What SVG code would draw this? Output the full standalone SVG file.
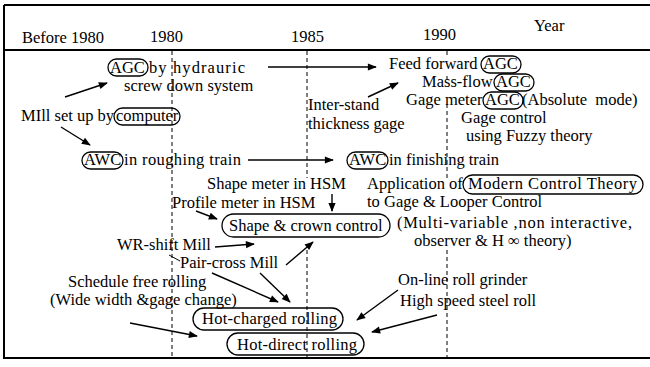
<svg xmlns="http://www.w3.org/2000/svg" width="650" height="367" viewBox="0 0 650 367">
<defs>
<marker id="ah" viewBox="0 0 10 10" refX="9" refY="5" markerWidth="10" markerHeight="9" markerUnits="userSpaceOnUse" orient="auto">
<path d="M0,1 L10,5 L0,9 Z" fill="#000"/>
</marker>
<style>
text{font-family:"Liberation Serif","Times New Roman",serif;font-size:16.5px;fill:#000}
.ov{fill:none;stroke:#000;stroke-width:1.3}
.frame{stroke:#000;stroke-width:2;fill:none}
.dash{stroke:#000;stroke-width:1;stroke-dasharray:4,3;fill:none}
.arr{stroke:#000;stroke-width:1.4;fill:none;marker-end:url(#ah)}
.ln{stroke:#000;stroke-width:1;fill:none}
</style>
</defs>
<rect width="650" height="367" fill="#fff"/>
<g id="frame">
<line class="frame" x1="4" y1="5" x2="650" y2="5"/>
<line class="frame" x1="4" y1="5" x2="4" y2="358"/>
<line class="frame" x1="3" y1="358" x2="650" y2="358"/>
<line class="frame" x1="3" y1="50" x2="650" y2="50"/>
</g>
<g id="axis">
<text x="22" y="43">Before 1980</text>
<text x="150" y="42">1980</text>
<text x="291" y="42">1985</text>
<text x="423" y="40">1990</text>
<text x="534" y="31">Year</text>
<line class="dash" x1="172" y1="51" x2="172" y2="358"/>
<line class="dash" x1="307" y1="51" x2="307" y2="178"/>
<line class="dash" x1="307" y1="250" x2="307" y2="358"/>
<line class="dash" x1="447" y1="51" x2="447" y2="57"/>
<line class="dash" x1="447" y1="76" x2="447" y2="80"/>
<line class="dash" x1="447" y1="104" x2="447" y2="178"/>
<line class="dash" x1="447" y1="250" x2="447" y2="358"/>
</g>
<g id="agc-hydraulic">
<rect class="ov" x="108" y="59" width="40" height="17" rx="8.5"/>
<text x="110" y="73">AGC</text>
<text x="149" y="73" textLength="96" lengthAdjust="spacing">by hydrauric</text>
<text x="124" y="91">screw down system</text>
</g>
<g id="feed-forward">
<text x="389" y="69">Feed forward</text>
<rect class="ov" x="481" y="56" width="40" height="17" rx="8.5"/>
<text x="483" y="69">AGC</text>
</g>
<g id="mass-flow">
<text x="422" y="87">Mass-flow</text>
<rect class="ov" x="494" y="74" width="40" height="17" rx="8.5"/>
<text x="496" y="87">AGC</text>
</g>
<g id="gage-meter">
<text x="406" y="105">Gage meter</text>
<rect class="ov" x="483" y="92" width="40" height="17" rx="8.5"/>
<text x="485" y="105">AGC</text>
<text x="522" y="105">(Absolute&#160; mode)</text>
</g>
<g id="fuzzy">
<text x="461" y="123">Gage control</text>
<text x="466" y="141">using Fuzzy theory</text>
</g>
<g id="inter-stand">
<text x="308" y="110">Inter-stand</text>
<text x="308" y="129">thickness gage</text>
</g>
<g id="mill-setup">
<text x="21" y="121">MIll set up by</text>
<rect class="ov" x="114" y="108" width="66" height="17" rx="8.5"/>
<text x="116" y="121">computer</text>
</g>
<g id="awc-roughing">
<rect class="ov" x="82" y="152" width="41" height="17" rx="8.5"/>
<text x="84" y="165">AWC</text>
<text x="124" y="165" textLength="117" lengthAdjust="spacing">in roughing train</text>
</g>
<g id="awc-finishing">
<rect class="ov" x="347" y="152" width="41" height="17" rx="8.5"/>
<text x="349" y="165">AWC</text>
<text x="389" y="165">in finishing train</text>
</g>
<g id="shape-meter">
<text x="207" y="189">Shape meter in HSM</text>
</g>
<g id="profile-meter">
<text x="172" y="208">Profile meter in HSM</text>
</g>
<g id="modern-control">
<text x="367" y="189">Application of</text>
<rect class="ov" x="463" y="175" width="180" height="19" rx="9.5"/>
<text x="468" y="189" textLength="169" lengthAdjust="spacing">Modern Control Theory</text>
<text x="367" y="207">to Gage &amp; Looper Control</text>
<text x="397" y="228" textLength="235" lengthAdjust="spacing">(Multi-variable ,non interactive,</text>
<text x="414" y="246">observer &amp; H ∞ theory)</text>
</g>
<g id="shape-crown">
<rect class="ov" x="222" y="214" width="168" height="23" rx="11.5"/>
<text x="229" y="231">Shape &amp; crown control</text>
</g>
<g id="wr-shift">
<text x="117" y="250">WR-shift Mill</text>
</g>
<g id="pair-cross">
<text x="180" y="268">Pair-cross Mill</text>
</g>
<g id="schedule-free">
<text x="68" y="287">Schedule free rolling</text>
<text x="50" y="305">(Wide width &amp;gage change)</text>
</g>
<g id="hot-charged">
<rect class="ov" x="193" y="308" width="150" height="22" rx="11"/>
<text x="202" y="324" textLength="135" lengthAdjust="spacing">Hot-charged rolling</text>
</g>
<g id="hot-direct">
<rect class="ov" x="227" y="333" width="137" height="22" rx="11"/>
<text x="237" y="350" textLength="120" lengthAdjust="spacing">Hot-direct rolling</text>
</g>
<g id="roll-grinder">
<text x="398" y="285">On-line roll grinder</text>
</g>
<g id="hss-roll">
<text x="400" y="306">High speed steel roll</text>
</g>
<g id="connectors">
<line class="arr" x1="65" y1="97" x2="107" y2="83"/>
<line class="arr" x1="268" y1="67" x2="376" y2="67"/>
<line class="arr" x1="368" y1="97" x2="398" y2="83"/>
<line class="arr" x1="61" y1="127" x2="90" y2="145"/>
<line class="arr" x1="248" y1="160" x2="333" y2="160"/>
<line class="arr" x1="332" y1="194" x2="332" y2="211"/>
<line class="arr" x1="196" y1="211" x2="217" y2="219"/>
<line class="arr" x1="215" y1="247" x2="254" y2="244"/>
<line class="arr" x1="286" y1="265" x2="313" y2="242"/>
<line class="ln" x1="169" y1="255" x2="180" y2="261"/>
<line class="arr" x1="212" y1="273" x2="278" y2="302"/>
<line class="arr" x1="260" y1="273" x2="290" y2="302"/>
<line class="arr" x1="130" y1="323" x2="197" y2="336"/>
<line class="arr" x1="398" y1="290" x2="357" y2="320"/>
<line class="arr" x1="437" y1="315" x2="372" y2="332"/>
</g>
</svg>
